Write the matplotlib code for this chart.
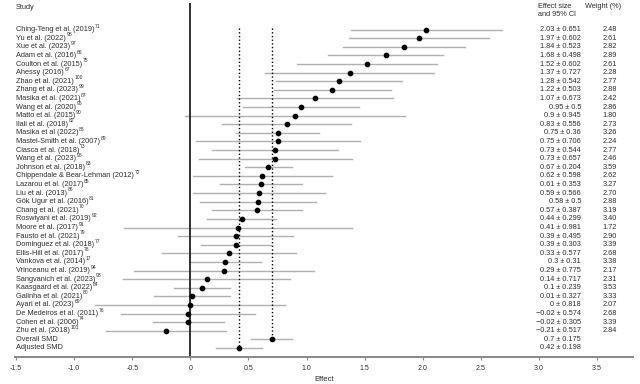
import matplotlib
matplotlib.use("Agg")
import matplotlib.pyplot as plt

plt.rcParams['font.family'] = ['Liberation Sans', 'DejaVu Sans']

# study names and reference numbers
studies = ['Ching-Teng et al. (2019)', 'Yu et al. (2022)', 'Xue et al. (2023)', 'Adam et al. (2016)',
           'Coulton et al. (2015)', 'Ahessy (2016)', 'Zhao et al. (2021)', 'Zhang et al. (2023)',
           'Masika et al. (2021)', 'Wang et al. (2020)', 'Matto et al. (2015)', 'Ilali et al. (2018)',
           'Masika et al (2022)', 'Mastel-Smith et al. (2007)', 'Ciasca et al. (2018)', 'Wang et al. (2023)',
           'Johnson et al. (2018)', 'Chippendale & Bear-Lehman (2012)', 'Lazarou et al. (2017)',
           'Liu et al. (2013)', 'Gök Ugur et al. (2016)', 'Chang et al. (2021)', 'Roswiyani et al. (2019)',
           'Moore et al. (2017)', 'Fausto et al. (2021)', 'Dominguez et al. (2018)', 'Ellis-Hill et al. (2017)',
           'Vankova et al. (2014)', 'Vrinceanu et al. (2019)', 'Sangvanich et al. (2023)',
           'Kaasgaard et al. (2022)', 'Galinha et al. (2021)', 'Ayari et al. (2023)',
           'De Medeiros et al. (2011)', 'Cohen et al. (2006)', 'Zhu et al. (2018)']
refs = ['71', '98', '97', '66', '75', '67', '100', '99', '87', '95', '90', '82', '88', '89', '73', '96',
        '83', '72', '85', '86', '81', '70', '92', '91', '79', '77', '78', '17', '94', '93', '84', '80',
        '69', '76', '74', '101']
effects = [2.03, 1.97, 1.84, 1.68, 1.52, 1.37, 1.28, 1.22, 1.07, 0.95, 0.9, 0.83, 0.75, 0.75, 0.73, 0.73,
           0.67, 0.62, 0.61, 0.59, 0.58, 0.57, 0.44, 0.41, 0.39, 0.39, 0.33, 0.3, 0.29, 0.14, 0.1, 0.01,
           0, -0.02, -0.02, -0.21]
cis = [0.651, 0.602, 0.523, 0.498, 0.602, 0.727, 0.542, 0.503, 0.673, 0.5, 0.945, 0.556, 0.36, 0.706,
       0.544, 0.657, 0.204, 0.598, 0.353, 0.566, 0.5, 0.387, 0.299, 0.981, 0.495, 0.303, 0.577, 0.31,
       0.775, 0.717, 0.239, 0.327, 0.818, 0.574, 0.305, 0.517]
weights = ['2.48', '2.61', '2.82', '2.89', '2.61', '2.28', '2.77', '2.88', '2.42', '2.86', '1.80', '2.73',
           '3.26', '2.24', '2.77', '2.46', '3.59', '2.62', '3.27', '2.70', '2.88', '3.19', '3.40', '1.72',
           '2.90', '3.39', '2.68', '3.38', '2.17', '2.31', '3.53', '3.33', '2.07', '2.68', '3.39', '2.84']
summary_names = ['Overall SMD', 'Adjusted SMD']
summary_effects = [0.7, 0.42]
summary_cis = [0.175, 0.198]
xticks = [-1.5, -1.0, -0.5, 0, 0.5, 1.0, 1.5, 2.0, 2.5, 3.0, 3.5]
xticklabels = ['-1.5', '-1.0', '-0.5', '0', '0.5', '1.0', '1.5', '2.0', '2.5', '3.0', '3.5']

txt = '#2e2e2e'
fs = 5.3

fig = plt.figure(figsize=(6.4, 3.84), dpi=100)
ax = fig.add_axes([15 / 640, 0.0695, 618 / 640, 0.9227])

names = studies + summary_names
all_eff = effects + summary_effects
all_ci = cis + summary_cis
n = len(names)

def fmt(v):
    s = ('%g' % v)
    return s.replace('-', '\u2212')

for i in range(n):
    e, c = all_eff[i], all_ci[i]
    ax.plot([e - c, e + c], [i, i], color='#b0b0b0', lw=1.0, zorder=1)
    ax.plot(e, i, 'o', color='black', ms=3.1, zorder=3)
    t = ax.text(-1.5, i, names[i], ha='left', va='center', fontsize=fs, color=txt)
    if i < len(studies):
        # superscript reference number right after the name
        ax.annotate(refs[i], xy=(1, 0.62), xycoords=t, xytext=(0.3, 0), textcoords='offset points',
                    ha='left', va='bottom', fontsize=3.6, color=txt)
        ax.text(3.672, i, weights[i], ha='right', va='center', fontsize=fs, color=txt)
    ax.text(3.362, i, fmt(e) + ' \u00b1 ' + fmt(c), ha='right', va='center', fontsize=fs, color=txt)

# reference lines
ax.axvline(0, color='#222222', lw=1.3, zorder=2)
ax.plot([summary_effects[0]] * 2, [-0.2, len(studies)], ls=':', color='black', lw=1.0, zorder=2)
ax.plot([summary_effects[1]] * 2, [-0.2, len(studies) + 1], ls=':', color='black', lw=1.0, zorder=2)

# headers
ax.text(-1.5, -2.52, 'Study', ha='left', va='center', fontsize=fs, color=txt)
ax.text(2.992, -2.64, 'Effect size', ha='left', va='center', fontsize=fs, color=txt)
ax.text(2.992, -1.71, 'and 95% CI', ha='left', va='center', fontsize=fs, color=txt)
ax.text(3.397, -2.64, 'Weight (%)', ha='left', va='center', fontsize=fs, color=txt)

ax.set_xlim(-1.51, 3.81)
ax.set_ylim(38.09, -3.1)
ax.set_yticks([])
for s in ['top', 'right', 'left']:
    ax.spines[s].set_visible(False)
ax.spines['bottom'].set_color('#888888')
ax.spines['bottom'].set_linewidth(1.4)
ax.set_xticks(xticks)
ax.set_xticklabels(xticklabels)
ax.tick_params(axis='x', length=2.5, width=0.8, color='#888888', labelsize=5.0, labelcolor=txt, pad=3)
ax.set_xlabel('Effect', fontsize=5.6, color=txt, labelpad=3)

fig.savefig('out.png', dpi=100)
